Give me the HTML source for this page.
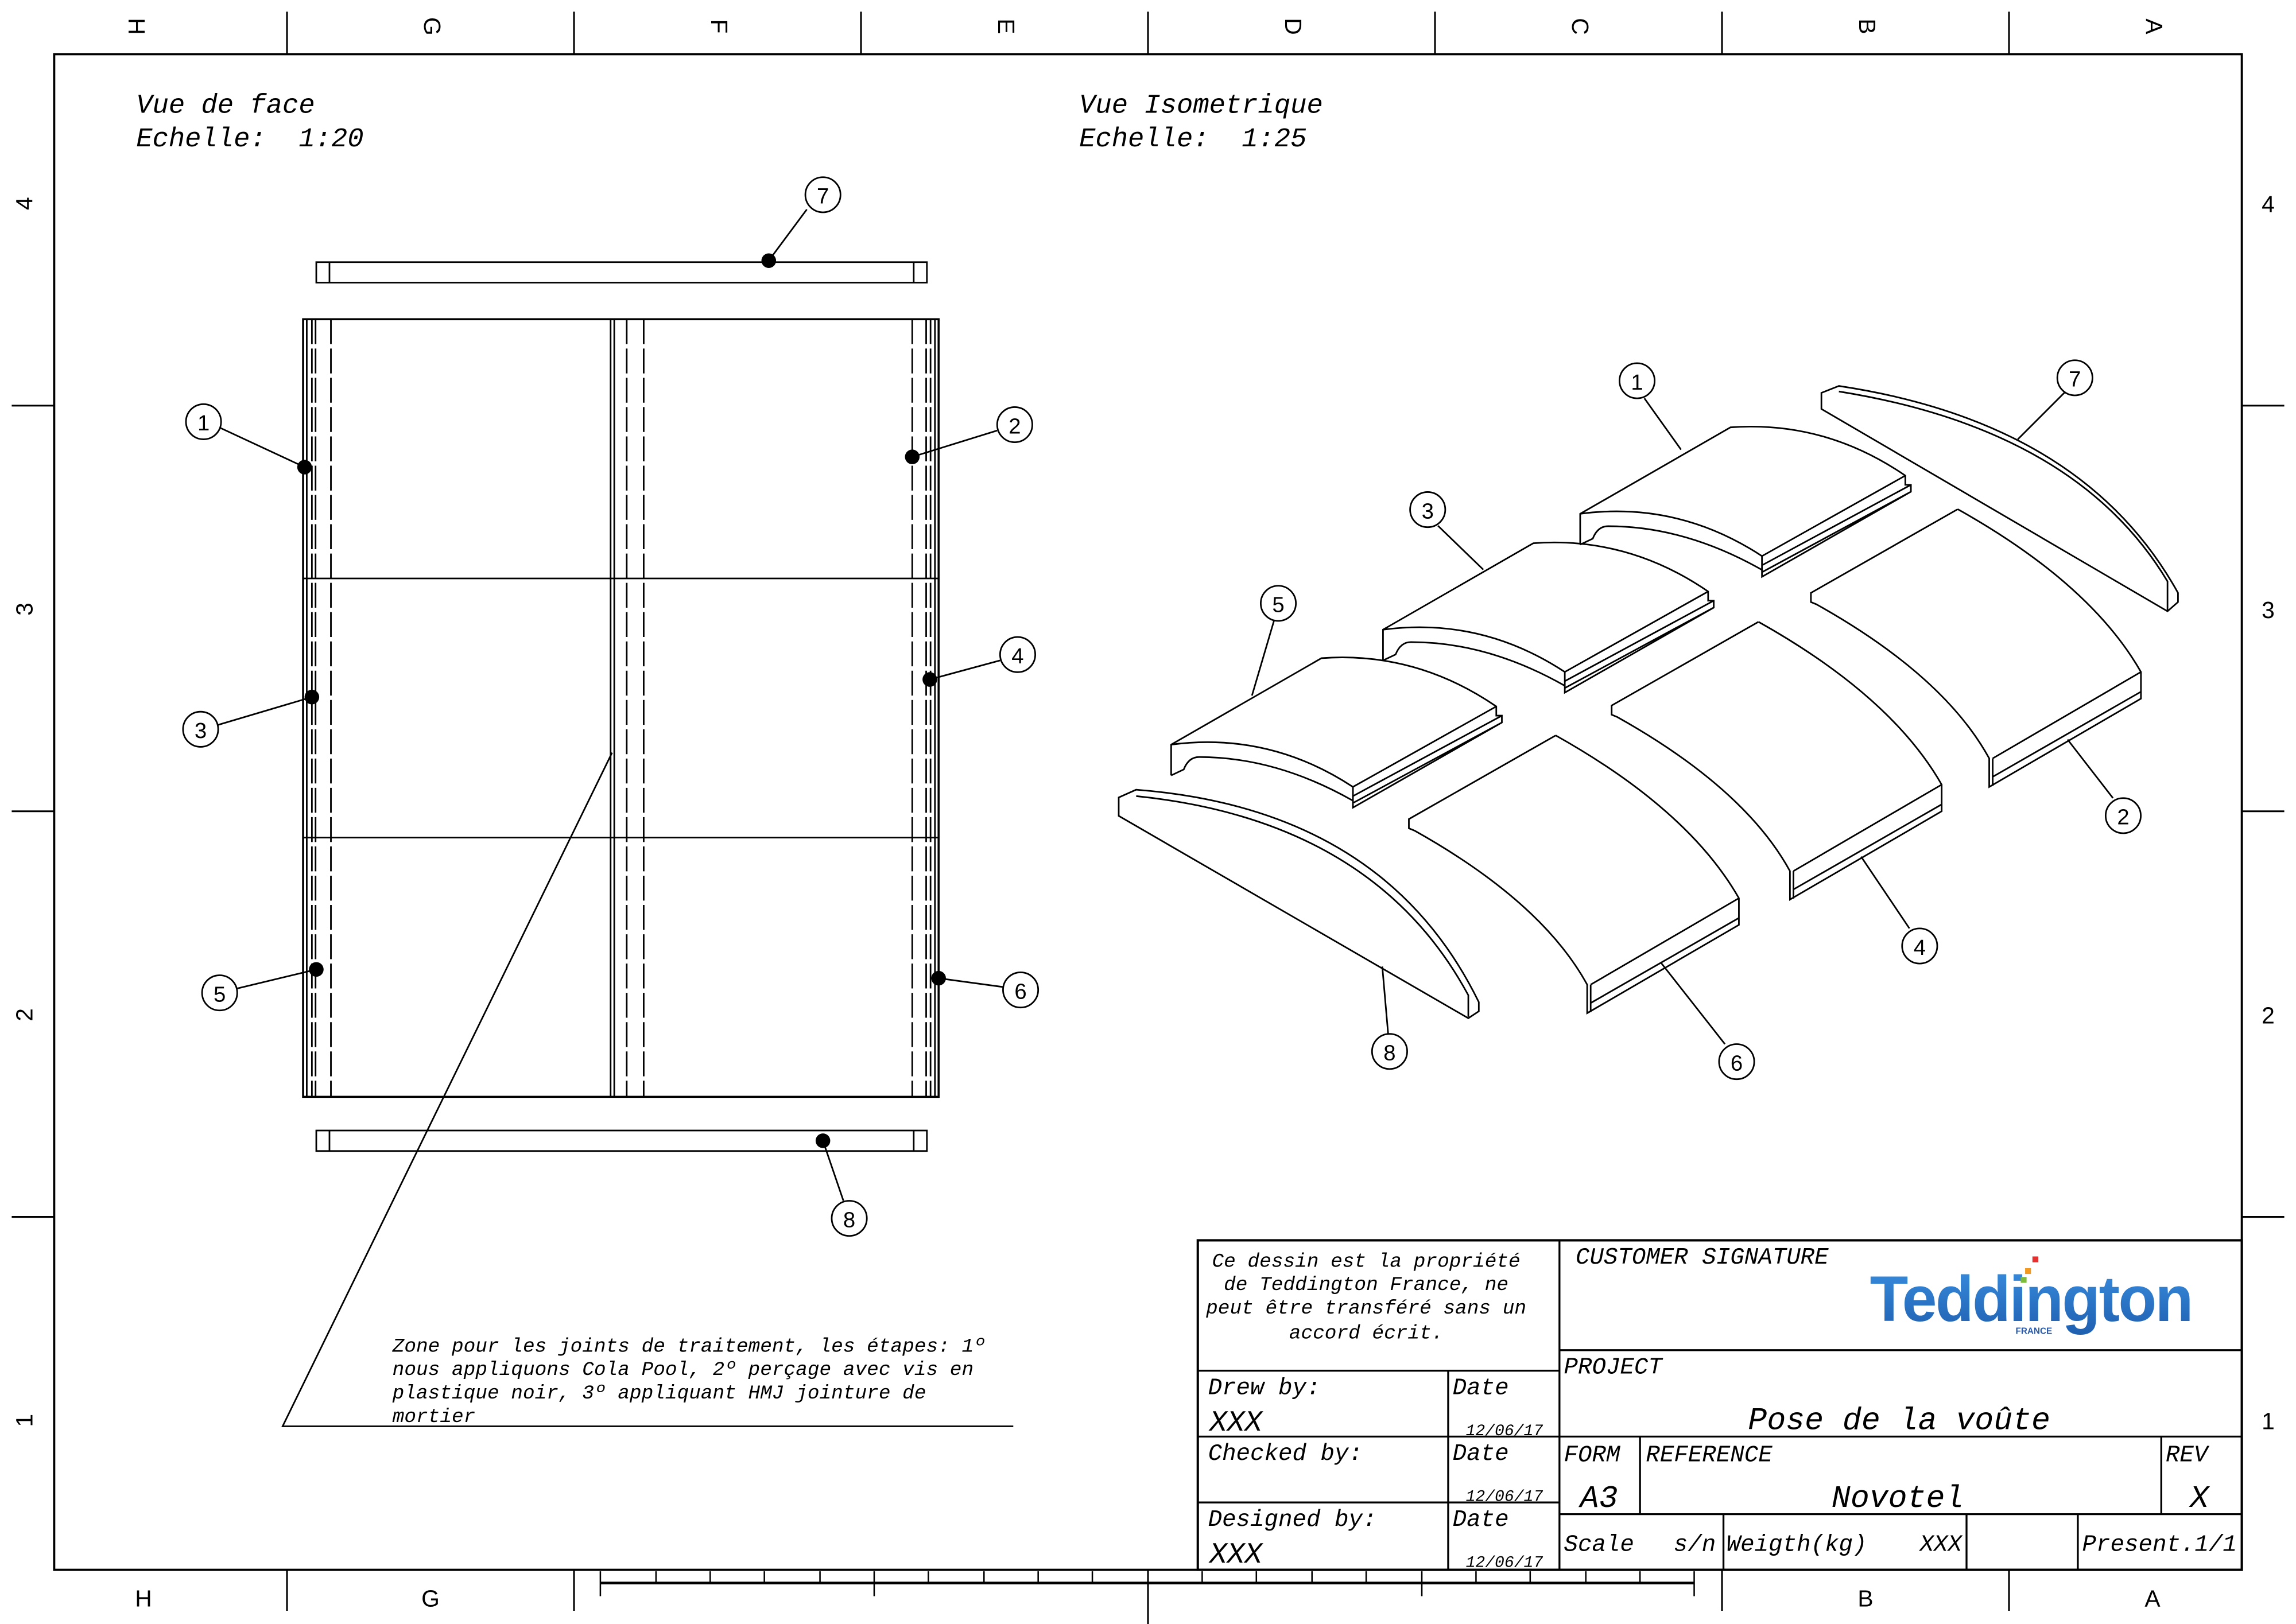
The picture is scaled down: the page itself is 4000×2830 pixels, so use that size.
<!DOCTYPE html>
<html><head><meta charset="utf-8"><style>
html,body{margin:0;padding:0;background:#fff;}
svg{display:block}
text{font-family:"Liberation Mono",monospace;font-style:italic;fill:#000}
.s{font-family:"Liberation Sans",sans-serif;font-style:normal}
.iso path{stroke-width:2.8}
</style></head><body>
<svg width="4000" height="2830" viewBox="0 0 1568 1109" preserveAspectRatio="none" xmlns="http://www.w3.org/2000/svg">
<rect width="1568" height="1109" fill="#fff"/>
<g stroke="#000" fill="none" stroke-width="1.2">
<rect x="37" y="37" width="1494" height="1035" stroke-width="1.5"/>
<path d="M196 8V37M392 8V37M588 8V37M784 8V37M980 8V37M1176 8V37M1372 8V37"/>
<path d="M196 1072V1100M392 1072V1100M784 1072V1109M1176 1072V1100M1372 1072V1100"/>
<path d="M8 277H37M8 554H37M8 831H37M1531 277H1560M1531 554H1560M1531 831H1560"/>
</g>
<g class="s" font-size="16">
<text class="s" transform="translate(92,18) rotate(90)" text-anchor="middle" dominant-baseline="middle">H</text>
<text class="s" transform="translate(294,18) rotate(90)" text-anchor="middle" dominant-baseline="middle">G</text>
<text class="s" transform="translate(490,18) rotate(90)" text-anchor="middle" dominant-baseline="middle">F</text>
<text class="s" transform="translate(686,18) rotate(90)" text-anchor="middle" dominant-baseline="middle">E</text>
<text class="s" transform="translate(882,18) rotate(90)" text-anchor="middle" dominant-baseline="middle">D</text>
<text class="s" transform="translate(1078,18) rotate(90)" text-anchor="middle" dominant-baseline="middle">C</text>
<text class="s" transform="translate(1274,18) rotate(90)" text-anchor="middle" dominant-baseline="middle">B</text>
<text class="s" transform="translate(1470,18) rotate(90)" text-anchor="middle" dominant-baseline="middle">A</text>
<text class="s" transform="translate(18,139) rotate(-90)" text-anchor="middle" dominant-baseline="middle">4</text>
<text class="s" transform="translate(18,416) rotate(-90)" text-anchor="middle" dominant-baseline="middle">3</text>
<text class="s" transform="translate(18,693) rotate(-90)" text-anchor="middle" dominant-baseline="middle">2</text>
<text class="s" transform="translate(18,970) rotate(-90)" text-anchor="middle" dominant-baseline="middle">1</text>
<text class="s" x="1549" y="145" text-anchor="middle">4</text>
<text class="s" x="1549" y="422" text-anchor="middle">3</text>
<text class="s" x="1549" y="699" text-anchor="middle">2</text>
<text class="s" x="1549" y="976" text-anchor="middle">1</text>
<text class="s" x="98" y="1097" text-anchor="middle">H</text>
<text class="s" x="294" y="1097" text-anchor="middle">G</text>
<text class="s" x="1274" y="1097" text-anchor="middle">B</text>
<text class="s" x="1470" y="1097" text-anchor="middle">A</text>
</g>
<g stroke="#000" fill="none" stroke-width="1">
<path d="M410 1081H1157" stroke-width="1.8"/>
<path d="M410 1073V1090M448 1073V1081M485 1073V1081M522 1073V1081M560 1073V1081M597 1073V1090M634 1073V1081M672 1073V1081M709 1073V1081M746 1073V1081M784 1073V1081M821 1073V1081M858 1073V1081M896 1073V1081M933 1073V1081M971 1073V1090M1008 1073V1081M1045 1073V1081M1083 1073V1081M1120 1073V1081M1157 1073V1090"/>
</g>
<g font-size="18.5">
<text x="93" y="77">Vue de face</text>
<text x="93" y="100">Echelle:&#160;&#160;1:20</text>
<text x="737" y="77">Vue Isometrique</text>
<text x="737" y="100">Echelle:&#160;&#160;1:25</text>
</g>
<g stroke="#000" fill="none" stroke-width="1.1">
<rect x="216" y="179" width="417" height="14"/>
<path d="M225 179V193M624 179V193"/>
<rect x="216" y="772" width="417" height="14"/>
<path d="M225 772V786M624 772V786"/>
<rect x="207" y="218" width="434" height="531" stroke-width="1.4"/>
<path d="M207 395H641M207 572H641"/>
<path d="M417 218V749M419.5 218V749M209.5 218V749M638.5 218V749"/>
<path d="M213 218V749M215.5 218V749M226 218V749M428 218V749M439.6 218V749M623 218V749M632.5 218V749M635.5 218V749" stroke-dasharray="17 3"/>
</g>
<g stroke="#000" fill="#fff" stroke-width="1.1">
<path d="M551 143L525 178M150 292L208 319M681 294L623 312M149 495L213 476M683 451L635 464M162 675L216 662M685 674L641 668M576 820L562 779M418 514L193 974H692" fill="none"/>
<circle cx="562" cy="133" r="12"/><circle cx="139" cy="288" r="12"/><circle cx="693" cy="290" r="12"/><circle cx="137" cy="498" r="12"/><circle cx="695" cy="447" r="12"/><circle cx="150" cy="678" r="12"/><circle cx="697" cy="676" r="12"/><circle cx="580" cy="832" r="12"/>
</g>
<g fill="#000"><circle cx="525" cy="178" r="5"/><circle cx="208" cy="319" r="5"/><circle cx="623" cy="312" r="5"/><circle cx="213" cy="476" r="5"/><circle cx="635" cy="464" r="5"/><circle cx="216" cy="662" r="5"/><circle cx="641" cy="668" r="5"/><circle cx="562" cy="779" r="5"/></g>
<g class="s" font-size="15" text-anchor="middle">
<text class="s" x="562" y="139">7</text><text class="s" x="139" y="294">1</text><text class="s" x="693" y="296">2</text><text class="s" x="137" y="504">3</text><text class="s" x="695" y="453">4</text><text class="s" x="150" y="684">5</text><text class="s" x="697" y="682">6</text><text class="s" x="580" y="838">8</text>
</g>
<g font-size="13.5">
<text x="268" y="923">Zone pour les joints de traitement, les étapes: 1º</text>
<text x="268" y="939">nous appliquons Cola Pool, 2º perçage avec vis en</text>
<text x="268" y="955">plastique noir, 3º appliquant HMJ jointure de</text>
<text x="268" y="971">mortier</text>
</g>
<g class="iso" transform="translate(764,251) scale(0.4775,0.314)" stroke="#000" fill="none">
<path vector-effect="non-scaling-stroke" d="M660 385V318L875 130Q1010 115 1125 235V255H1133V270L920 455V410Q800 290 660 318M920 410L1125 235M920 430L1133 255M920 445L1133 270M660 385L678 372Q685 345 700 345Q810 345 920 440"/>
<g transform="translate(-282,252)"><path vector-effect="non-scaling-stroke" d="M660 385V318L875 130Q1010 115 1125 235V255H1133V270L920 455V410Q800 290 660 318M920 410L1125 235M920 430L1133 255M920 445L1133 270M660 385L678 372Q685 345 700 345Q810 345 920 440"/></g>
<g transform="translate(-585,502)"><path vector-effect="non-scaling-stroke" d="M660 385V318L875 130Q1010 115 1125 235V255H1133V270L920 455V410Q800 290 660 318M920 410L1125 235M920 430L1133 255M920 445L1133 270M660 385L678 372Q685 345 700 345Q810 345 920 440"/></g>
<path vector-effect="non-scaling-stroke" d="M1200 308L990 490V510L998 515Q1180 670 1245 850V912L1462 720V662Q1390 470 1200 308M1462 662L1250 850M1462 705L1250 890M1250 850V910"/>
<g transform="translate(-285,245)"><path vector-effect="non-scaling-stroke" d="M1200 308L990 490V510L998 515Q1180 670 1245 850V912L1462 720V662Q1390 470 1200 308M1462 662L1250 850M1462 705L1250 890M1250 850V910"/></g>
<g transform="translate(-575,492)"><path vector-effect="non-scaling-stroke" d="M1200 308L990 490V510L998 515Q1180 670 1245 850V912L1462 720V662Q1390 470 1200 308M1462 662L1250 850M1462 705L1250 890M1250 850V910"/></g>
<path vector-effect="non-scaling-stroke" d="M1005 90L1500 530L1515 510V490Q1380 120 1030 40L1005 55ZM1030 52Q1370 135 1500 465V528"/>
<path vector-effect="non-scaling-stroke" d="M0 975L500 1415L515 1400V1380Q380 960 25 918L0 935ZM25 932Q365 985 500 1365V1412"/>
</g>
<g stroke="#000" fill="#fff" stroke-width="1.1">
<path d="M1123 272L1148 307M1410 268L1378 300M982 359L1013 389M870 424L855 475M1443 545L1412 505M1304 634L1271 585M1178 713L1134 657M948 706L944 660" fill="none"/>
<circle cx="1118" cy="260" r="12"/><circle cx="1417" cy="258" r="12"/><circle cx="975" cy="348" r="12"/><circle cx="873" cy="412" r="12"/><circle cx="1450" cy="557" r="12"/><circle cx="1311" cy="646" r="12"/><circle cx="1186" cy="725" r="12"/><circle cx="949" cy="718" r="12"/>
</g>
<g class="s" font-size="15" text-anchor="middle">
<text class="s" x="1118" y="266">1</text><text class="s" x="1417" y="264">7</text><text class="s" x="975" y="354">3</text><text class="s" x="873" y="418">5</text><text class="s" x="1450" y="563">2</text><text class="s" x="1311" y="652">4</text><text class="s" x="1186" y="731">6</text><text class="s" x="949" y="724">8</text>
</g>
<g stroke="#000" fill="none" stroke-width="1.3">
<rect x="818" y="847" width="713" height="225" stroke-width="1.6"/>
<path d="M1065 847V1072M818 936H1065M818 981H1065M818 1026H1065M989 936V1072M1065 922H1531M1065 981H1531M1065 1034H1531M1120 981V1034M1476 981V1034M1177 1034V1072M1343 1034V1072M1419 1034V1072"/>
</g>
<g font-size="13.5" text-anchor="middle">
<text x="933" y="865">Ce dessin est la propriété</text>
<text x="933" y="881">de Teddington France, ne</text>
<text x="933" y="897">peut être transféré sans un</text>
<text x="933" y="914">accord écrit.</text>
</g>
<g font-size="16">
<text x="825" y="952">Drew by:</text>
<text x="992" y="952">Date</text>
<text x="825" y="997">Checked by:</text>
<text x="992" y="997">Date</text>
<text x="825" y="1042">Designed by:</text>
<text x="992" y="1042">Date</text>
<text x="1076" y="863">CUSTOMER SIGNATURE</text>
<text x="1068" y="938">PROJECT</text>
<text x="1068" y="998">FORM</text>
<text x="1124" y="998">REFERENCE</text>
<text x="1479" y="998">REV</text>
<text x="1068" y="1059">Scale</text>
<text x="1143" y="1059">s/n</text>
<text x="1179" y="1059">Weigth(kg)</text>
<text x="1311" y="1059">XXX</text>
<text x="1422" y="1059">Present.1/1</text>
</g>
<g font-size="20"><text x="826" y="977">XXX</text><text x="826" y="1067">XXX</text></g>
<g font-size="11"><text x="1001" y="980">12/06/17</text><text x="1001" y="1025">12/06/17</text><text x="1001" y="1070">12/06/17</text></g>
<g font-size="21.5">
<text x="1297" y="976" text-anchor="middle">Pose de la voûte</text>
<text x="1296" y="1029" text-anchor="middle">Novotel</text>
<text x="1092" y="1029" text-anchor="middle">A3</text>
<text x="1502" y="1029" text-anchor="middle">X</text>
</g>
<defs><linearGradient id="lg" x1="0" y1="0" x2="0" y2="1"><stop offset="0" stop-color="#3a8fe0"/><stop offset="1" stop-color="#1f5fb0"/></linearGradient></defs>
<text class="s" x="1387" y="902" text-anchor="middle" font-size="44" font-weight="bold" textLength="220" lengthAdjust="spacingAndGlyphs" style="fill:url(#lg);letter-spacing:-1px">Teddington</text>
<text class="s" x="1389" y="911" text-anchor="middle" font-size="6" font-weight="bold" style="fill:#2a5aa8">FRANCE</text>
<rect x="1388" y="858" width="4" height="4" fill="#e53030"/>
<rect x="1383" y="866" width="4" height="4" fill="#f39a1e"/>
<rect x="1380" y="872" width="4" height="4" fill="#7dbb3a"/>
</svg>
</body></html>
